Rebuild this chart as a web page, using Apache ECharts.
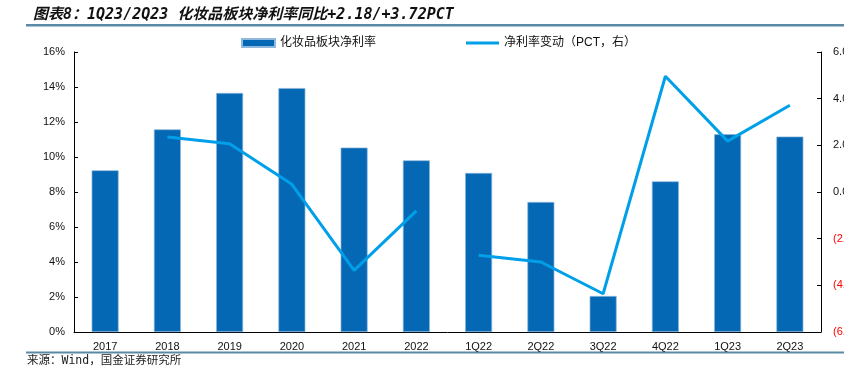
<!DOCTYPE html>
<html><head><meta charset="utf-8">
<script src="https://cdn.jsdelivr.net/npm/echarts@6/dist/echarts.min.js"></script>
<style>html,body{margin:0;padding:0;background:#fff}#c{width:844px;height:381px}</style>
</head><body><div id="c"></div>
<script>
const categories = ['2017','2018','2019','2020','2021','2022','1Q22','2Q22','3Q22','4Q22','1Q23','2Q23'];
const netMargin = [9.24, 11.58, 13.66, 13.94, 10.54, 9.81, 9.09, 7.43, 2.06, 8.61, 11.30, 11.17];
const changeAnnual = [null, 2.36, 2.07, 0.33, -3.36, -0.81, null, null, null, null, null, null];
const changeQuarter = [null, null, null, null, null, null, -2.71, -3.00, -4.36, 4.96, 2.18, 3.72];
const leftTicks = {min: 0, max: 16, interval: 2};
const rightTicks = {min: -6, max: 6, interval: 2};
const barName = '化妆品板块净利率';
const lineName = '净利率变动（PCT，右）';
const titleText = '图表8：1Q23/2Q23 化妆品板块净利率同比+2.18/+3.72PCT';
const sourceText = '来源：Wind，国金证券研究所';

const chart = echarts.init(document.getElementById('c'));
const font = 'Liberation Sans, Arial, Noto Sans CJK SC, sans-serif';
const lineColor = '#00A0E9';
chart.setOption({
  animation: false,
  textStyle: {fontFamily: font},
  title: {
    text: titleText, left: 28, top: 3,
    textStyle: {fontSize: 15, fontWeight: 'bold', fontStyle: 'italic', color: '#111', fontFamily: 'DejaVu Sans Mono, Noto Sans CJK SC'}
  },
  graphic: [
    {type: 'rect', shape: {x: 26, y: 24, width: 818, height: 2.5}, style: {fill: '#5B8AA6'}},
    {type: 'rect', shape: {x: 26, y: 351.5, width: 818, height: 2}, style: {fill: '#5B8AA6'}},
    {type: 'text', left: 27, top: 355, style: {text: sourceText, fontSize: 11.5, fill: '#222', fontFamily: 'DejaVu Sans Mono, Noto Sans CJK SC'}}
  ],
  legend: {
    left: 236, top: 32, itemGap: 90, itemWidth: 33, itemHeight: 8,
    textStyle: {fontSize: 12, color: '#111', fontFamily: font},
    data: [{name: barName, icon: 'rect'}, {name: lineName, icon: 'path://M0,0H33V3H0Z'}]
  },
  grid: {left: 74, right: 23, top: 52, bottom: 49, outerBoundsMode: 'none', containLabel: false},
  xAxis: {
    type: 'category', data: categories,
    axisLine: {lineStyle: {color: '#000', width: 1}},
    axisTick: {inside: true, length: 4, lineStyle: {color: '#000'}},
    axisLabel: {color: '#111', fontSize: 11, margin: 9}
  },
  yAxis: [
    {
      type: 'value', min: leftTicks.min, max: leftTicks.max, interval: leftTicks.interval,
      axisLine: {show: true, lineStyle: {color: '#000'}},
      axisTick: {show: true, inside: true, length: 4, lineStyle: {color: '#000'}},
      splitLine: {show: false},
      axisLabel: {color: '#111', fontSize: 11, margin: 9, formatter: v => v + '%'}
    },
    {
      type: 'value', min: rightTicks.min, max: rightTicks.max, interval: rightTicks.interval,
      position: 'right',
      axisLine: {show: true, lineStyle: {color: '#000'}},
      axisTick: {show: true, inside: true, length: 4, lineStyle: {color: '#000'}},
      splitLine: {show: false},
      axisLabel: {
        fontSize: 11, margin: 12, color: '#111',
        formatter: v => v < 0 ? '{neg|(' + Math.abs(v).toFixed(2) + ')}' : v.toFixed(2),
        rich: {neg: {color: '#FF0000', fontSize: 11, fontFamily: font}}
      }
    }
  ],
  series: [
    {
      name: barName, type: 'bar', data: netMargin, yAxisIndex: 0, barWidth: 27,
      itemStyle: {color: '#0468B4', borderColor: '#8FB8DC', borderWidth: 0.7}
    },
    {
      name: lineName, type: 'line', data: changeAnnual, yAxisIndex: 1, symbol: 'none',
      lineStyle: {color: lineColor, width: 3}, itemStyle: {color: lineColor}
    },
    {
      name: lineName, type: 'line', data: changeQuarter, yAxisIndex: 1, symbol: 'none',
      lineStyle: {color: lineColor, width: 3}, itemStyle: {color: lineColor}
    }
  ]
});
</script></body></html>
